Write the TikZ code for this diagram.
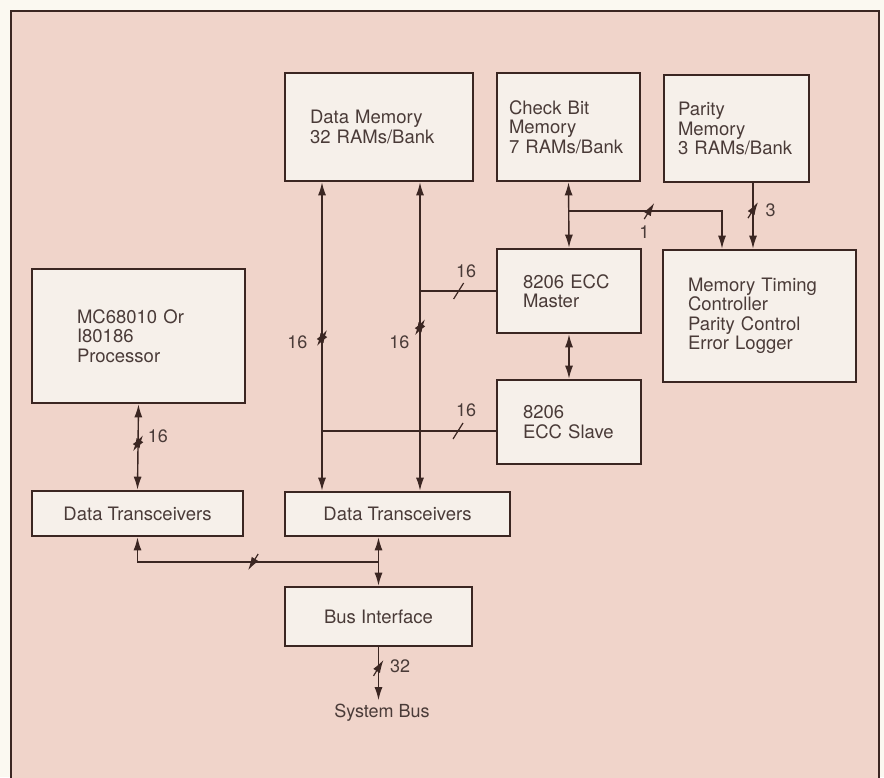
\documentclass[tikz,border=0pt]{standalone}
\usepackage{fontspec}
\setsansfont{TeX Gyre Heros}
\usepackage{xcolor}
\definecolor{eccpage}{HTML}{FBF9F1}
\definecolor{eccpink}{HTML}{F0D4CA}
\definecolor{eccfill}{HTML}{F6F0EA}
\definecolor{eccline}{HTML}{3B2622}
\definecolor{ecctext}{HTML}{4A3B38}
\usepackage{tikz}
\usetikzlibrary{arrows.meta,positioning}
\tikzset{
  eccbox/.style={draw=eccline,line width=2.6pt,fill=eccfill,text=ecctext,align=left,inner ysep=0pt,font=\sffamily\fontsize{18.5}{19.5}\selectfont},
  ecclabel/.style={text=ecctext,inner sep=2pt,font=\sffamily\fontsize{18}{19.5}\selectfont},
  eccbus/.style={draw=eccline,line width=1.4pt,{Latex[length=13pt,width=8pt]}-{Latex[length=13pt,width=8pt]}},
  eccflow/.style={draw=eccline,line width=1.4pt,-{Latex[length=13pt,width=8pt]}},
  eccwire/.style={draw=eccline,line width=1.4pt},
  eccslash/.pic={\draw[eccline,line width=1.2pt] (-5,8) -- (5,-8);},
}

\begin{document}
\begin{tikzpicture}[x=1pt,y=-1pt]
  \useasboundingbox (0,0) rectangle (884,777);
  \fill[eccpage] (0,0) rectangle (884,777);
  \draw[eccline,line width=1.8pt,fill=eccpink] (11,11) rectangle (879,800);
  % blocks
\node[eccbox,minimum height=108pt,inner xsep=25pt,text width=138pt] (dmem) at (379,127) {Data Memory\\32 RAMs/Bank};
\node[eccbox,minimum height=108pt,inner xsep=12pt,text width=119pt] (cbm) at (568.5,127) {Check Bit\\Memory\\7 RAMs/Bank};
\node[eccbox,minimum height=107pt,inner xsep=14pt,text width=117pt] (pmem) at (736.5,128.5) {Parity\\Memory\\3 RAMs/Bank};
\node[eccbox,minimum height=84pt,inner xsep=26pt,text width=92pt] (master) at (569,291) {8206~ECC\\Master};
\node[eccbox,minimum height=84pt,inner xsep=26pt,text width=92pt] (slave) at (569,422) {8206\\ECC~Slave};
\node[eccbox,minimum height=132pt,inner xsep=25pt,text width=143pt] (mtc) at (759.5,316) {Memory Timing\\Controller\\Parity Control\\Error Logger};
\node[eccbox,minimum height=134pt,inner xsep=45pt,text width=123pt] (proc) at (138.5,336) {MC68010 Or\\I80186\\Processor};
\node[eccbox,align=center,minimum width=211pt,minimum height=45pt] (dtrl) at (137.5,513.5) {Data Transceivers};
\node[eccbox,align=center,minimum width=225pt,minimum height=44pt] (dtr) at (397.5,514) {Data Transceivers};
\node[eccbox,align=center,minimum width=187pt,minimum height=59pt] (bus) at (378.5,616.5) {Bus Interface};
\node[ecclabel,inner sep=4pt] (sysbus) at (382,713) {System Bus};
  % bus columns and rows
\coordinate (colA) at (322,0);
\coordinate (colB) at (420,0);
\coordinate (colT) at (722,0);
\coordinate (colP) at (753,0);
\coordinate (rowT) at (0,211);
\coordinate (rowS) at (0,431);
\coordinate (rowL) at (0,562);
  % connectors
\draw[eccbus] (dmem.south -| colA) -- pic[pos=0.505]{eccslash} node[ecclabel,pos=0.52,left=12pt]{16} (dtr.north -| colA);
\draw[eccbus] (dmem.south -| colB) -- pic[pos=0.47]{eccslash} node[ecclabel,pos=0.52,left=8pt]{16} (dtr.north -| colB);
\draw[eccwire] (master.west) -- pic[pos=0.49]{eccslash} node[ecclabel,pos=0.39,above=11pt]{16} (master.west -| colB);
\draw[eccwire] (slave.west |- rowS) -- pic[pos=0.217]{eccslash} node[ecclabel,pos=0.17,above=12pt]{16} (colA |- rowS);
\draw[eccbus] (cbm.south) -- (master.north);
\draw[eccbus] (master.south) -- (slave.north);
\draw[eccflow] (cbm.south |- rowT) -| pic[pos=0.263]{eccslash} node[ecclabel,pos=0.247,below=12pt]{1} (mtc.north -| colT);
\draw[eccflow] (pmem.south -| colP) -- pic[pos=0.41]{eccslash} node[ecclabel,pos=0.41,right=10pt]{3} (mtc.north -| colP);
\draw[eccbus] (proc.south) -- pic[pos=0.455]{eccslash} node[ecclabel,pos=0.375,right=7pt]{16} (dtrl.north);
\draw[eccline,line width=1.4pt,{Latex[length=13pt,width=8pt]}-] (dtrl.south) |- pic[pos=0.74]{eccslash} (bus.north |- rowL);
\draw[eccbus] (dtr.south -| bus.north) -- (bus.north);
\draw[eccflow] (bus.south) -- pic[pos=0.39]{eccslash} node[ecclabel,pos=0.36,right=9pt]{32} (sysbus.north -| bus.south);
\end{tikzpicture}
\end{document}
